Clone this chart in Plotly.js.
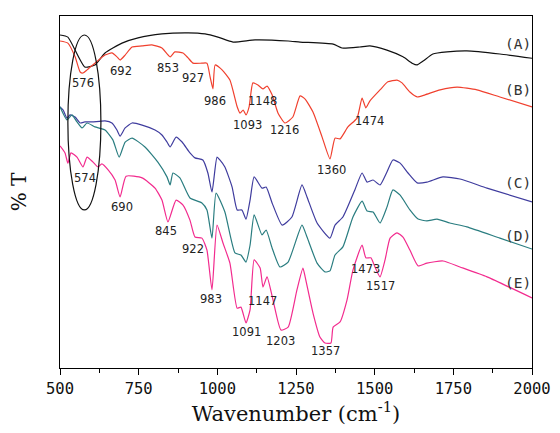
<!DOCTYPE html>
<html><head><meta charset="utf-8">
<script src="https://cdn.plot.ly/plotly-3.0.1.min.js"></script>
<style>html,body{margin:0;padding:0;background:#fff}#c{width:560px;height:433px}</style>
</head><body><div id="c"></div>
<script>
const wnA=[500,525,579,611,643,697,748,824,907,961,1002,1050,1120,1225,1263,1368,1396,1453,1485,1539,1590,1619,1635,1654,1685,1730,1793,1898,2000];
const tA=[94.6,94.0,85.5,86.1,89.5,92.3,93.8,94.9,95.2,94.9,94.0,92.6,93.2,92.9,92.6,92.0,90.9,91.2,91.5,90.3,88.4,86.6,86.1,87.2,89.2,89.8,90.1,89.2,88.0];

const wnB=[500,525,548,564,573,586,611,643,665,681,691,707,729,761,792,824,850,865,891,907,923,951,967,977,986,993,1015,1040,1063,1072,1082,1091,1101,1113,1129,1145,1158,1174,1193,1215,1240,1263,1279,1304,1333,1358,1374,1390,1415,1444,1460,1472,1485,1517,1542,1571,1587,1612,1635,1660,1708,1762,1825,1898,2000];
const tB=[92.9,92.3,88.4,84.1,83.8,84.7,86.6,88.9,89.5,88.4,87.5,88.9,91.2,91.5,91.8,90.9,88.4,89.8,89.5,88.1,86.6,86.6,86.6,82.7,79.3,86.1,84.7,81.8,74.2,72.4,73.3,71.9,74.2,81.0,80.4,79.3,80.1,77.6,72.4,69.6,71.3,77.3,76.4,72.7,65.6,59.4,65.3,65.1,68.5,71.0,76.7,73.9,75.9,79.0,81.3,81.8,81.0,78.4,77.0,77.6,79.0,79.8,79.0,77.0,74.2];

const wnC=[500,510,522,532,548,564,579,602,643,665,681,691,707,729,761,802,824,840,850,869,888,913,929,954,970,983,999,1008,1024,1047,1063,1078,1091,1104,1117,1142,1155,1174,1206,1237,1269,1285,1317,1358,1374,1399,1437,1460,1476,1495,1517,1539,1558,1581,1606,1635,1666,1717,1771,1857,2000];
const tC=[74.2,73.3,71.0,71.9,71.3,69.6,69.9,69.9,70.2,69.6,67.6,65.9,68.2,69.6,69.0,67.6,66.2,64.2,62.8,65.6,64.2,61.1,59.7,59.1,55.4,50.0,59.9,59.1,57.1,51.4,44.9,44.9,42.3,47.7,54.3,51.1,51.4,46.9,40.6,42.9,52.0,48.6,41.2,36.9,40.6,42.9,50.6,55.4,52.8,53.4,52.0,55.7,59.1,58.2,55.4,52.6,52.8,54.3,53.7,51.1,47.2];

const wnD=[500,522,538,554,570,586,611,643,668,688,707,729,770,811,840,850,859,881,913,951,967,983,996,1024,1056,1075,1091,1104,1117,1142,1155,1174,1199,1225,1269,1285,1317,1342,1358,1374,1399,1431,1460,1476,1495,1517,1539,1558,1581,1612,1638,1666,1698,1739,1793,1898,2000];
const tD=[74.2,70.5,71.9,69.9,68.2,69.6,68.5,67.6,64.8,59.9,64.2,65.3,62.8,58.5,54.3,52.0,55.4,54.0,48.3,46.9,44.9,36.9,49.7,44.3,32.7,32.1,30.1,34.9,43.5,37.8,39.2,34.1,28.7,30.1,40.6,37.2,29.8,27.3,27.6,32.1,34.4,42.9,47.4,44.6,44.3,41.2,45.7,50.6,49.1,44.9,42.3,41.8,42.3,41.2,40.1,36.9,33.8];

const wnE=[500,516,525,535,554,573,586,605,621,633,653,675,691,710,761,802,824,843,869,891,913,929,951,967,983,999,1018,1040,1063,1075,1091,1104,1117,1136,1145,1158,1177,1202,1225,1253,1272,1279,1304,1326,1342,1361,1368,1390,1412,1431,1460,1472,1488,1501,1517,1533,1549,1571,1590,1612,1638,1666,1717,1771,1857,2000];
const tE=[63.1,61.1,58.2,61.1,59.9,57.1,59.9,58.5,57.1,58.0,56.3,53.4,48.6,54.5,54.0,51.1,47.7,41.5,47.7,46.3,42.0,37.2,36.9,33.5,22.2,40.6,35.5,29.8,17.0,17.3,12.8,16.5,30.7,28.4,23.0,25.9,19.3,10.8,11.6,22.2,28.4,25.9,15.6,8.8,7.1,7.1,11.6,13.1,19.3,27.8,34.9,31.3,31.3,28.7,25.9,30.7,36.9,38.4,37.2,33.5,29.0,29.8,30.4,28.7,25.9,19.9];

const peakText=["576","692","853","927","986","1093","1148","1216","1360","1474","574","690","845","922","983","1147","1091","1203","1357","1473","1517"];
const peakX=[573,694,843,923,993,1097,1145,1212,1364,1485,579,697,837,923,980,1145,1094,1202,1345,1472,1517];
const peakY=[81.0,84.4,85.2,82.4,75.9,69.0,75.9,67.6,56.3,70.2,54.0,45.7,38.9,33.8,19.6,19.0,10.2,7.7,4.8,28.1,23.3];

const seriesText=["(A)","(B)","(C)","(D)","(E)"];
const seriesLabelX=[1954,1954,1954,1954,1954];
const seriesLabelY=[92.0,79.0,52.6,37.5,24.1];

const tickVals=[500,750,1000,1250,1500,1750,2000];

const colors=["#111111","#f0402e","#3f3c9e","#2a7d80","#f22b8e"];
const xs=[wnA,wnB,wnC,wnD,wnE], ys=[tA,tB,tC,tD,tE];
const traces=xs.map((x,i)=>({x:x,y:ys[i],type:"scatter",mode:"lines",line:{color:colors[i],width:1.2,shape:"spline",smoothing:0.5},showlegend:false,hoverinfo:"skip"}));

const ann=[];
peakText.forEach((t,i)=>ann.push({x:peakX[i],y:peakY[i],xref:"x",yref:"y",text:t,showarrow:false,font:{family:"DejaVu Sans",size:11.5,color:"#222"}}));
seriesText.forEach((t,i)=>ann.push({x:seriesLabelX[i],y:seriesLabelY[i],xref:"x",yref:"y",text:t,showarrow:false,font:{family:"DejaVu Sans Mono",size:14.5,color:"#333"}}));

const layout={
  width:560,height:433,
  margin:{l:60,r:28,t:16,b:65},
  paper_bgcolor:"#fff",plot_bgcolor:"#fff",
  xaxis:{range:[500,2000],tickvals:tickVals,ticks:"outside",ticklen:6,tickwidth:1,tickcolor:"#000",
    minor:{dtick:125,ticks:"outside",ticklen:4,tickcolor:"#000"},
    showgrid:false,zeroline:false,showline:true,linecolor:"#000",linewidth:1.3,mirror:true,
    tickfont:{family:"DejaVu Sans Mono",size:15.5,color:"#111"},
    title:{text:"Wavenumber (cm<sup>-1</sup>)",font:{family:"DejaVu Serif",size:21,color:"#111"},standoff:6}},
  yaxis:{range:[0,100],showticklabels:false,ticks:"",showgrid:false,zeroline:false,showline:true,linecolor:"#000",linewidth:1.3,mirror:true,
    title:{text:"% T",font:{family:"DejaVu Serif",size:20,color:"#111"},standoff:26}},
  annotations:ann,
  shapes:[{type:"circle",xref:"x",yref:"y",x0:525,x1:630,y0:44.9,y1:94.6,line:{color:"#111",width:1.2}}]
};
Plotly.newPlot("c",traces,layout,{displayModeBar:false,staticPlot:true});
</script></body></html>
